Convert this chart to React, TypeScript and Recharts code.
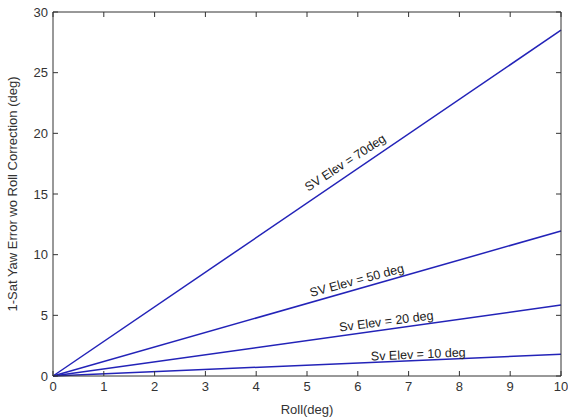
import { LineChart, Line, XAxis, YAxis, ReferenceDot } from "recharts";

const roll = [0, 10];
const elev70 = [0, 28.5];
const elev50 = [0, 11.95];
const elev20 = [0, 5.85];
const elev10 = [0, 1.79];

const xTicks = [0, 1, 2, 3, 4, 5, 6, 7, 8, 9, 10];
const yTicks = [0, 5, 10, 15, 20, 25, 30];

// annotation text with position (data units) and angle
const notes = [
  { text: "SV Elev = 70deg", x: 5.75, y: 17.6, angle: -33 },
  { text: "SV Elev = 50 deg", x: 5.98, y: 7.9, angle: -15 },
  { text: "Sv Elev = 20 deg", x: 6.56, y: 4.53, angle: -7.5 },
  { text: "Sv Elev = 10 deg", x: 7.19, y: 1.81, angle: -2.5 },
];

const data = roll.map((r, i) => ({
  roll: r,
  e70: elev70[i],
  e50: elev50[i],
  e20: elev20[i],
  e10: elev10[i],
}));

const LINE = "#2323b8";
const AXIS = "#333";
const font = "Arial, 'Liberation Sans', sans-serif";
const tick = { fill: "#333", fontSize: 13, fontFamily: font };

export default function App() {
  return (
    <div style={{ position: "absolute", left: 0, top: 0, background: "#fff" }}>
      <LineChart width={568} height={419} data={data} margin={{ top: 11, right: 6, bottom: 0, left: 0 }}>
        <XAxis
          dataKey="roll"
          type="number"
          domain={[0, 10]}
          ticks={xTicks}
          height={43}
          tick={tick}
          tickSize={-5}
          tickMargin={11}
          stroke={AXIS}
          label={{ value: "Roll(deg)", position: "insideBottom", offset: 5, fill: "#333", fontSize: 13, fontFamily: font }}
        />
        <XAxis
          xAxisId="top"
          orientation="top"
          dataKey="roll"
          type="number"
          domain={[0, 10]}
          ticks={xTicks}
          height={1}
          tickFormatter={() => ""}
          tickSize={-5}
          stroke={AXIS}
        />
        <YAxis
          type="number"
          domain={[0, 30]}
          ticks={yTicks}
          width={53}
          tick={tick}
          tickSize={-5}
          tickMargin={10}
          stroke={AXIS}
          label={{
            value: "1-Sat Yaw Error wo Roll Correction (deg)",
            angle: -90,
            position: "insideLeft",
            offset: 12,
            style: { textAnchor: "middle" },
            fill: "#333",
            fontSize: 13,
            fontFamily: font,
          }}
        />
        <YAxis
          yAxisId="right"
          orientation="right"
          type="number"
          domain={[0, 30]}
          ticks={yTicks}
          width={1}
          tickFormatter={() => ""}
          tickSize={-5}
          stroke={AXIS}
        />
        <Line dataKey="e70" stroke={LINE} strokeWidth={1.5} dot={false} isAnimationActive={false} />
        <Line dataKey="e50" stroke={LINE} strokeWidth={1.5} dot={false} isAnimationActive={false} />
        <Line dataKey="e20" stroke={LINE} strokeWidth={1.5} dot={false} isAnimationActive={false} />
        <Line dataKey="e10" stroke={LINE} strokeWidth={1.5} dot={false} isAnimationActive={false} />
        {/* invisible series so the frame axes render */}
        <Line
          xAxisId="top"
          yAxisId="right"
          dataKey="e70"
          stroke="none"
          dot={false}
          activeDot={false}
          isAnimationActive={false}
        />
        {notes.map((n) => (
          <ReferenceDot
            key={n.text}
            x={n.x}
            y={n.y}
            r={0}
            stroke="none"
            fill="none"
            label={{ value: n.text, angle: n.angle, position: "center", fill: "#222", fontSize: 12.5, fontFamily: font }}
          />
        ))}
      </LineChart>
    </div>
  );
}
